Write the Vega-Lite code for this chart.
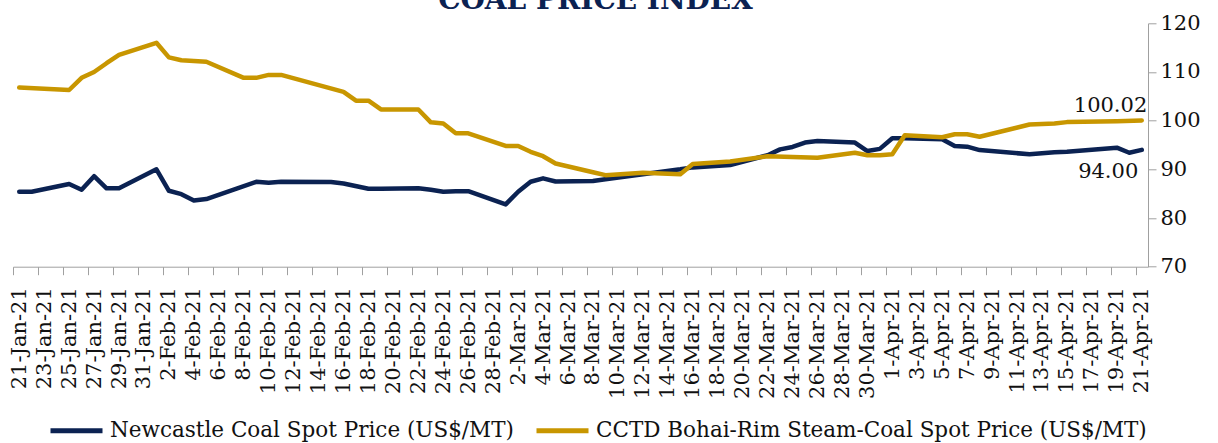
{
  "$schema": "https://vega.github.io/schema/vega-lite/v6.json",
  "width": 1135,
  "height": 243.4,
  "autosize": {"type": "none"},
  "padding": {"left": 13, "top": 23.3, "right": 70, "bottom": 176.3},
  "background": "white",
  "config": {"view": {"stroke": null}, "font": "DejaVu Serif"},
  "title": {"text": "COAL PRICE INDEX", "font": "DejaVu Serif", "fontSize": 28, "fontWeight": "bold", "color": "#0B2252", "anchor": "middle", "baseline": "alphabetic", "offset": 0, "dx": 15, "dy": 25},
  "data": {"values": [
    {"series": "Newcastle Coal Spot Price (US$/MT)", "date": "2021-01-21", "price": 85.4},
    {"series": "Newcastle Coal Spot Price (US$/MT)", "date": "2021-01-22", "price": 85.4},
    {"series": "Newcastle Coal Spot Price (US$/MT)", "date": "2021-01-25", "price": 87.0},
    {"series": "Newcastle Coal Spot Price (US$/MT)", "date": "2021-01-26", "price": 85.8},
    {"series": "Newcastle Coal Spot Price (US$/MT)", "date": "2021-01-27", "price": 88.6},
    {"series": "Newcastle Coal Spot Price (US$/MT)", "date": "2021-01-28", "price": 86.1},
    {"series": "Newcastle Coal Spot Price (US$/MT)", "date": "2021-01-29", "price": 86.1},
    {"series": "Newcastle Coal Spot Price (US$/MT)", "date": "2021-02-01", "price": 90.0},
    {"series": "Newcastle Coal Spot Price (US$/MT)", "date": "2021-02-02", "price": 85.6},
    {"series": "Newcastle Coal Spot Price (US$/MT)", "date": "2021-02-03", "price": 84.9},
    {"series": "Newcastle Coal Spot Price (US$/MT)", "date": "2021-02-04", "price": 83.6},
    {"series": "Newcastle Coal Spot Price (US$/MT)", "date": "2021-02-05", "price": 83.9},
    {"series": "Newcastle Coal Spot Price (US$/MT)", "date": "2021-02-09", "price": 87.45},
    {"series": "Newcastle Coal Spot Price (US$/MT)", "date": "2021-02-10", "price": 87.25},
    {"series": "Newcastle Coal Spot Price (US$/MT)", "date": "2021-02-11", "price": 87.45},
    {"series": "Newcastle Coal Spot Price (US$/MT)", "date": "2021-02-15", "price": 87.4},
    {"series": "Newcastle Coal Spot Price (US$/MT)", "date": "2021-02-16", "price": 87.1},
    {"series": "Newcastle Coal Spot Price (US$/MT)", "date": "2021-02-18", "price": 86.0},
    {"series": "Newcastle Coal Spot Price (US$/MT)", "date": "2021-02-19", "price": 86.0},
    {"series": "Newcastle Coal Spot Price (US$/MT)", "date": "2021-02-22", "price": 86.1},
    {"series": "Newcastle Coal Spot Price (US$/MT)", "date": "2021-02-23", "price": 85.8},
    {"series": "Newcastle Coal Spot Price (US$/MT)", "date": "2021-02-24", "price": 85.4},
    {"series": "Newcastle Coal Spot Price (US$/MT)", "date": "2021-02-25", "price": 85.5},
    {"series": "Newcastle Coal Spot Price (US$/MT)", "date": "2021-02-26", "price": 85.5},
    {"series": "Newcastle Coal Spot Price (US$/MT)", "date": "2021-03-01", "price": 82.8},
    {"series": "Newcastle Coal Spot Price (US$/MT)", "date": "2021-03-02", "price": 85.4},
    {"series": "Newcastle Coal Spot Price (US$/MT)", "date": "2021-03-03", "price": 87.45},
    {"series": "Newcastle Coal Spot Price (US$/MT)", "date": "2021-03-04", "price": 88.15},
    {"series": "Newcastle Coal Spot Price (US$/MT)", "date": "2021-03-05", "price": 87.5},
    {"series": "Newcastle Coal Spot Price (US$/MT)", "date": "2021-03-08", "price": 87.6},
    {"series": "Newcastle Coal Spot Price (US$/MT)", "date": "2021-03-09", "price": 87.95},
    {"series": "Newcastle Coal Spot Price (US$/MT)", "date": "2021-03-12", "price": 89.0},
    {"series": "Newcastle Coal Spot Price (US$/MT)", "date": "2021-03-15", "price": 90.0},
    {"series": "Newcastle Coal Spot Price (US$/MT)", "date": "2021-03-16", "price": 90.4},
    {"series": "Newcastle Coal Spot Price (US$/MT)", "date": "2021-03-19", "price": 90.9},
    {"series": "Newcastle Coal Spot Price (US$/MT)", "date": "2021-03-22", "price": 92.9},
    {"series": "Newcastle Coal Spot Price (US$/MT)", "date": "2021-03-23", "price": 94.1},
    {"series": "Newcastle Coal Spot Price (US$/MT)", "date": "2021-03-24", "price": 94.6},
    {"series": "Newcastle Coal Spot Price (US$/MT)", "date": "2021-03-25", "price": 95.5},
    {"series": "Newcastle Coal Spot Price (US$/MT)", "date": "2021-03-26", "price": 95.8},
    {"series": "Newcastle Coal Spot Price (US$/MT)", "date": "2021-03-29", "price": 95.5},
    {"series": "Newcastle Coal Spot Price (US$/MT)", "date": "2021-03-30", "price": 93.75},
    {"series": "Newcastle Coal Spot Price (US$/MT)", "date": "2021-03-31", "price": 94.2},
    {"series": "Newcastle Coal Spot Price (US$/MT)", "date": "2021-04-01", "price": 96.4},
    {"series": "Newcastle Coal Spot Price (US$/MT)", "date": "2021-04-02", "price": 96.4},
    {"series": "Newcastle Coal Spot Price (US$/MT)", "date": "2021-04-05", "price": 96.2},
    {"series": "Newcastle Coal Spot Price (US$/MT)", "date": "2021-04-06", "price": 94.8},
    {"series": "Newcastle Coal Spot Price (US$/MT)", "date": "2021-04-07", "price": 94.65},
    {"series": "Newcastle Coal Spot Price (US$/MT)", "date": "2021-04-08", "price": 93.95},
    {"series": "Newcastle Coal Spot Price (US$/MT)", "date": "2021-04-12", "price": 93.1},
    {"series": "Newcastle Coal Spot Price (US$/MT)", "date": "2021-04-14", "price": 93.5},
    {"series": "Newcastle Coal Spot Price (US$/MT)", "date": "2021-04-15", "price": 93.6},
    {"series": "Newcastle Coal Spot Price (US$/MT)", "date": "2021-04-19", "price": 94.45},
    {"series": "Newcastle Coal Spot Price (US$/MT)", "date": "2021-04-20", "price": 93.4},
    {"series": "Newcastle Coal Spot Price (US$/MT)", "date": "2021-04-21", "price": 94.0},
    {"series": "CCTD Bohai-Rim Steam-Coal Spot Price (US$/MT)", "date": "2021-01-21", "price": 106.8},
    {"series": "CCTD Bohai-Rim Steam-Coal Spot Price (US$/MT)", "date": "2021-01-25", "price": 106.3},
    {"series": "CCTD Bohai-Rim Steam-Coal Spot Price (US$/MT)", "date": "2021-01-26", "price": 108.8},
    {"series": "CCTD Bohai-Rim Steam-Coal Spot Price (US$/MT)", "date": "2021-01-27", "price": 110.0},
    {"series": "CCTD Bohai-Rim Steam-Coal Spot Price (US$/MT)", "date": "2021-01-28", "price": 111.8},
    {"series": "CCTD Bohai-Rim Steam-Coal Spot Price (US$/MT)", "date": "2021-01-29", "price": 113.5},
    {"series": "CCTD Bohai-Rim Steam-Coal Spot Price (US$/MT)", "date": "2021-02-01", "price": 116.0},
    {"series": "CCTD Bohai-Rim Steam-Coal Spot Price (US$/MT)", "date": "2021-02-02", "price": 113.0},
    {"series": "CCTD Bohai-Rim Steam-Coal Spot Price (US$/MT)", "date": "2021-02-03", "price": 112.4},
    {"series": "CCTD Bohai-Rim Steam-Coal Spot Price (US$/MT)", "date": "2021-02-05", "price": 112.1},
    {"series": "CCTD Bohai-Rim Steam-Coal Spot Price (US$/MT)", "date": "2021-02-08", "price": 108.8},
    {"series": "CCTD Bohai-Rim Steam-Coal Spot Price (US$/MT)", "date": "2021-02-09", "price": 108.8},
    {"series": "CCTD Bohai-Rim Steam-Coal Spot Price (US$/MT)", "date": "2021-02-10", "price": 109.4},
    {"series": "CCTD Bohai-Rim Steam-Coal Spot Price (US$/MT)", "date": "2021-02-11", "price": 109.4},
    {"series": "CCTD Bohai-Rim Steam-Coal Spot Price (US$/MT)", "date": "2021-02-16", "price": 105.9},
    {"series": "CCTD Bohai-Rim Steam-Coal Spot Price (US$/MT)", "date": "2021-02-17", "price": 104.1},
    {"series": "CCTD Bohai-Rim Steam-Coal Spot Price (US$/MT)", "date": "2021-02-18", "price": 104.1},
    {"series": "CCTD Bohai-Rim Steam-Coal Spot Price (US$/MT)", "date": "2021-02-19", "price": 102.3},
    {"series": "CCTD Bohai-Rim Steam-Coal Spot Price (US$/MT)", "date": "2021-02-22", "price": 102.3},
    {"series": "CCTD Bohai-Rim Steam-Coal Spot Price (US$/MT)", "date": "2021-02-23", "price": 99.65},
    {"series": "CCTD Bohai-Rim Steam-Coal Spot Price (US$/MT)", "date": "2021-02-24", "price": 99.4},
    {"series": "CCTD Bohai-Rim Steam-Coal Spot Price (US$/MT)", "date": "2021-02-25", "price": 97.4},
    {"series": "CCTD Bohai-Rim Steam-Coal Spot Price (US$/MT)", "date": "2021-02-26", "price": 97.4},
    {"series": "CCTD Bohai-Rim Steam-Coal Spot Price (US$/MT)", "date": "2021-03-01", "price": 94.8},
    {"series": "CCTD Bohai-Rim Steam-Coal Spot Price (US$/MT)", "date": "2021-03-02", "price": 94.8},
    {"series": "CCTD Bohai-Rim Steam-Coal Spot Price (US$/MT)", "date": "2021-03-03", "price": 93.6},
    {"series": "CCTD Bohai-Rim Steam-Coal Spot Price (US$/MT)", "date": "2021-03-04", "price": 92.7},
    {"series": "CCTD Bohai-Rim Steam-Coal Spot Price (US$/MT)", "date": "2021-03-05", "price": 91.2},
    {"series": "CCTD Bohai-Rim Steam-Coal Spot Price (US$/MT)", "date": "2021-03-08", "price": 89.4},
    {"series": "CCTD Bohai-Rim Steam-Coal Spot Price (US$/MT)", "date": "2021-03-09", "price": 88.8},
    {"series": "CCTD Bohai-Rim Steam-Coal Spot Price (US$/MT)", "date": "2021-03-12", "price": 89.3},
    {"series": "CCTD Bohai-Rim Steam-Coal Spot Price (US$/MT)", "date": "2021-03-15", "price": 89.0},
    {"series": "CCTD Bohai-Rim Steam-Coal Spot Price (US$/MT)", "date": "2021-03-16", "price": 91.1},
    {"series": "CCTD Bohai-Rim Steam-Coal Spot Price (US$/MT)", "date": "2021-03-19", "price": 91.6},
    {"series": "CCTD Bohai-Rim Steam-Coal Spot Price (US$/MT)", "date": "2021-03-22", "price": 92.7},
    {"series": "CCTD Bohai-Rim Steam-Coal Spot Price (US$/MT)", "date": "2021-03-26", "price": 92.4},
    {"series": "CCTD Bohai-Rim Steam-Coal Spot Price (US$/MT)", "date": "2021-03-29", "price": 93.4},
    {"series": "CCTD Bohai-Rim Steam-Coal Spot Price (US$/MT)", "date": "2021-03-30", "price": 92.9},
    {"series": "CCTD Bohai-Rim Steam-Coal Spot Price (US$/MT)", "date": "2021-03-31", "price": 92.9},
    {"series": "CCTD Bohai-Rim Steam-Coal Spot Price (US$/MT)", "date": "2021-04-01", "price": 93.1},
    {"series": "CCTD Bohai-Rim Steam-Coal Spot Price (US$/MT)", "date": "2021-04-02", "price": 97.0},
    {"series": "CCTD Bohai-Rim Steam-Coal Spot Price (US$/MT)", "date": "2021-04-05", "price": 96.6},
    {"series": "CCTD Bohai-Rim Steam-Coal Spot Price (US$/MT)", "date": "2021-04-06", "price": 97.2},
    {"series": "CCTD Bohai-Rim Steam-Coal Spot Price (US$/MT)", "date": "2021-04-07", "price": 97.2},
    {"series": "CCTD Bohai-Rim Steam-Coal Spot Price (US$/MT)", "date": "2021-04-08", "price": 96.7},
    {"series": "CCTD Bohai-Rim Steam-Coal Spot Price (US$/MT)", "date": "2021-04-12", "price": 99.2},
    {"series": "CCTD Bohai-Rim Steam-Coal Spot Price (US$/MT)", "date": "2021-04-14", "price": 99.4},
    {"series": "CCTD Bohai-Rim Steam-Coal Spot Price (US$/MT)", "date": "2021-04-15", "price": 99.7},
    {"series": "CCTD Bohai-Rim Steam-Coal Spot Price (US$/MT)", "date": "2021-04-19", "price": 99.9},
    {"series": "CCTD Bohai-Rim Steam-Coal Spot Price (US$/MT)", "date": "2021-04-21", "price": 100.02}
  ]},
  "encoding": {
    "x": {"field": "date", "type": "temporal",
      "scale": {"type": "utc", "domain": [1611144000000, 1619006400000]},
      "axis": {"title": null, "format": "%-d-%b-%y", "labelAngle": 270, "labelFont": "DejaVu Serif", "labelFontSize": 21, "labelColor": "#111111",
        "values": [1611187200000,1611360000000,1611532800000,1611705600000,1611878400000,1612051200000,1612224000000,1612396800000,1612569600000,1612742400000,1612915200000,1613088000000,1613260800000,1613433600000,1613606400000,1613779200000,1613952000000,1614124800000,1614297600000,1614470400000,1614643200000,1614816000000,1614988800000,1615161600000,1615334400000,1615507200000,1615680000000,1615852800000,1616025600000,1616198400000,1616371200000,1616544000000,1616716800000,1616889600000,1617062400000,1617235200000,1617408000000,1617580800000,1617753600000,1617926400000,1618099200000,1618272000000,1618444800000,1618617600000,1618790400000,1618963200000],
        "tickSize": 8, "tickColor": "#A0A0A0", "domainColor": "#A0A0A0", "tickOffset": -6.24, "labelOffset": 6.24, "labelPadding": 12,
        "labelOverlap": false, "labelFlush": false, "labelBound": false, "grid": false}},
    "y": {"field": "price", "type": "quantitative",
      "scale": {"domain": [70, 120], "nice": false, "zero": false},
      "axis": {"orient": "right", "title": null, "values": [70, 80, 90, 100, 110, 120], "grid": false, "tickSize": 8, "tickColor": "#A0A0A0", "domainColor": "#A0A0A0",
        "labelFont": "DejaVu Serif", "labelFontSize": 21, "labelColor": "#111111", "labelPadding": 4, "labelOverlap": false, "labelFlush": false, "labelBound": false}}
  },
  "layer": [
    {"mark": {"type": "line", "strokeWidth": 4.5, "strokeJoin": "round", "strokeCap": "round"},
      "encoding": {"color": {"field": "series", "type": "nominal",
        "scale": {"domain": ["Newcastle Coal Spot Price (US$/MT)", "CCTD Bohai-Rim Steam-Coal Spot Price (US$/MT)"], "range": ["#0B2252", "#C89600"]},
        "legend": {"orient": "none", "legendX": 35, "legendY": 379, "direction": "horizontal", "title": null, "symbolType": "stroke", "symbolSize": 2704, "symbolStrokeWidth": 5,
          "labelFont": "DejaVu Serif", "labelFontSize": 21.5, "labelColor": "#111111", "columnPadding": 12, "labelOffset": 5, "padding": 0, "labelLimit": 1000}}}},
    {"transform": [{"filter": "datum.series === 'CCTD Bohai-Rim Steam-Coal Spot Price (US$/MT)' && utcmonth(datum.date) === 3 && utcdate(datum.date) === 21"}],
      "mark": {"type": "text", "font": "DejaVu Serif", "fontSize": 21, "color": "#111111", "align": "right", "baseline": "alphabetic", "dx": 5.5, "dy": -8.5},
      "encoding": {"text": {"field": "price", "type": "quantitative", "format": ".2f"}}},
    {"transform": [{"filter": "datum.series === 'Newcastle Coal Spot Price (US$/MT)' && utcmonth(datum.date) === 3 && utcdate(datum.date) === 21"}],
      "mark": {"type": "text", "font": "DejaVu Serif", "fontSize": 21, "color": "#111111", "align": "right", "baseline": "alphabetic", "dx": -3.5, "dy": 28.5},
      "encoding": {"text": {"field": "price", "type": "quantitative", "format": ".2f"}}}
  ]
}
